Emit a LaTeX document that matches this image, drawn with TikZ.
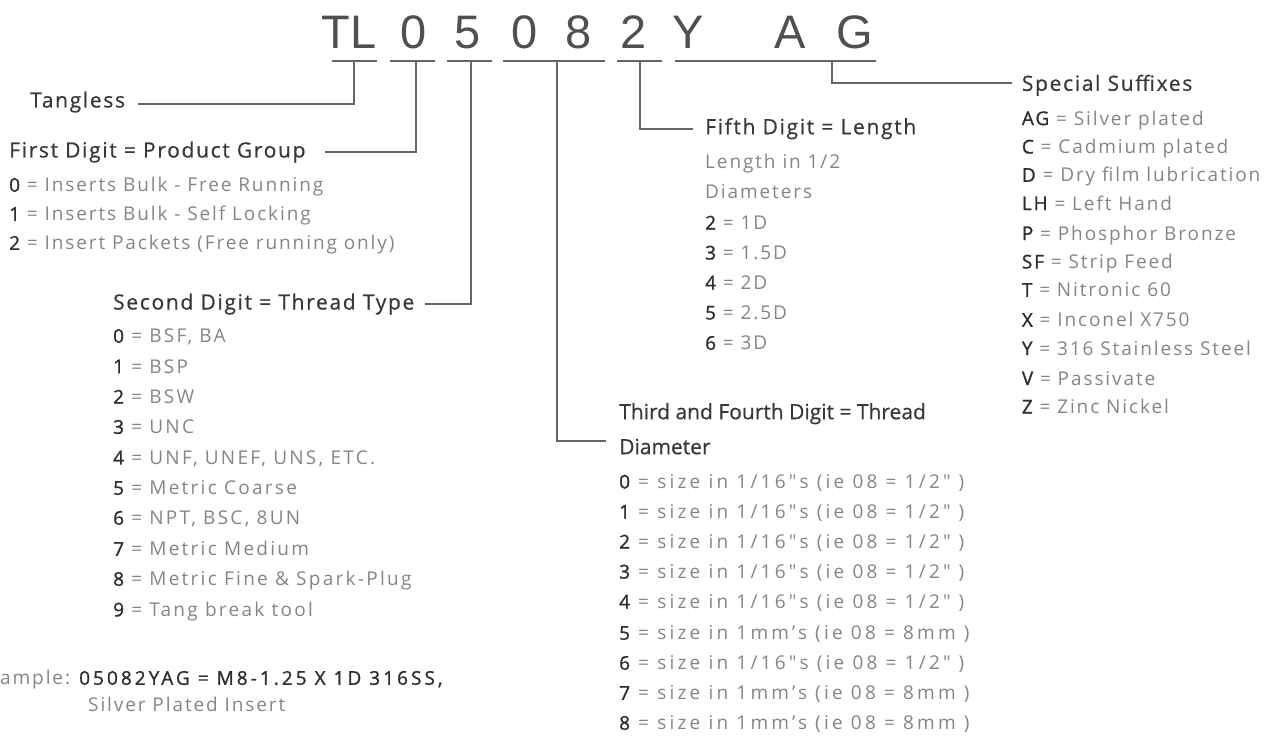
\documentclass[tikz,border=0pt]{standalone}
\usepackage{fontspec}
\setmainfont{Open Sans}
\newfontfamily\titlefont{Liberation Sans}
\definecolor{titlec}{HTML}{505050}
\definecolor{headc}{HTML}{383838}
\definecolor{itemc}{HTML}{858585}
\definecolor{keyc}{HTML}{2E2E2E}
\definecolor{linec}{HTML}{666666}
\newcommand\ky[1]{{\addfontfeature{FakeBold=1.2}\color{keyc}#1}}
\begin{document}
\begin{tikzpicture}[x=1pt,y=-1pt,
  ttl/.style={font=\titlefont\fontsize{47}{50}\selectfont, text=titlec, anchor=base, inner sep=0pt},
  head/.style={font=\fontsize{21}{25}\selectfont\addfontfeature{LetterSpace=8,FakeBold=0.6}, text=headc, anchor=base west, inner sep=0pt},
  headn/.style={font=\fontsize{21}{25}\selectfont\addfontfeature{FakeBold=0.6}, text=headc, anchor=base west, inner sep=0pt},
  item/.style={font=\fontsize{19}{23}\selectfont\addfontfeature{LetterSpace=10}, text=itemc, anchor=base west, inner sep=0pt},
  itemw/.style={item, font=\fontsize{19}{23}\selectfont\addfontfeature{LetterSpace=12}},
  itemd/.style={item, font=\fontsize{19}{23}\selectfont\addfontfeature{LetterSpace=17}},
  conn/.style={draw=linec, line width=2.4pt},
  under/.style={draw=linec, line width=2.4pt}]
\useasboundingbox (0,0) rectangle (1285,738);
% title
\node[ttl] (tTL) at (349,48.3) {TL};
\node[ttl] (t0) at (414,48.3) {0};
\node[ttl] (t5) at (468,48.3) {5};
\node[ttl] (t0b) at (525,48.3) {0};
\node[ttl] (t8) at (579,48.3) {8};
\node[ttl] (t2) at (634,48.3) {2};
\node[ttl] (tY) at (688,48.3) {Y};
\node[ttl] (tA) at (790,48.3) {A};
\node[ttl] (tG) at (855,48.3) {G};
% underlines
\draw[under] (331.7,61) -- (376.7,61);
\draw[under] (390,61) -- (435,61);
\draw[under] (446.7,61) -- (491.7,61);
\draw[under] (503,61) -- (605,61);
\draw[under] (617,61) -- (661.7,61);
\draw[under] (675,61) -- (876,61);
\coordinate (uTL) at (354,61);
\coordinate (u0) at (415.7,61);
\coordinate (u5) at (471,61);
\coordinate (u08) at (556.7,61);
\coordinate (u2) at (640,61);
\coordinate (uAG) at (831.7,61);
% Tangless
\node[head] (tang) at (30,107.5) {Tangless};
\coordinate (eTang) at (138,104);
\draw[conn] (uTL) |- (eTang);
% First digit
\node[head] (first) at (9,157.5) {First Digit = Product Group};
\coordinate (eFirst) at (325,152);
\draw[conn] (u0) |- (eFirst);
\node[item] (f0) at (9,191.8) {\ky{0} = Inserts Bulk - Free Running};
\node[item] (f1) at (9,220.8) {\ky{1} = Inserts Bulk - Self Locking};
\node[item] (f2) at (9,249.8) {\ky{2} = Insert Packets (Free running only)};
% Second digit
\node[head] (second) at (113,309.5) {Second Digit = Thread Type};
\coordinate (eSecond) at (425,304);
\draw[conn] (u5) |- (eSecond);
\node[itemw] (s0) at (113,342.8) {\ky{0} = BSF, BA};
\node[itemw] (s1) at (113,373.2) {\ky{1} = BSP};
\node[itemw] (s2) at (113,403.6) {\ky{2} = BSW};
\node[itemw] (s3) at (113,433.8) {\ky{3} = UNC};
\node[itemw] (s4) at (113,464.4) {\ky{4} = UNF, UNEF, UNS, ETC.};
\node[itemw] (s5) at (113,494.8) {\ky{5} = Metric Coarse};
\node[itemw] (s6) at (113,524.8) {\ky{6} = NPT, BSC, 8UN};
\node[itemw] (s7) at (113,555.8) {\ky{7} = Metric Medium};
\node[itemw] (s8) at (113,585.8) {\ky{8} = Metric Fine \& Spark-Plug};
\node[itemw] (s9) at (113,616.4) {\ky{9} = Tang break tool};
% example
\node[item] (ex1) at (0,684.8) {ample: \ky{\addfontfeature{LetterSpace=16}05082YAG = M8-1.25 X 1D 316SS,}};
\node[item] (ex2) at (88,711.8) {Silver Plated Insert};
% Fifth digit
\node[head] (fifth) at (705,134.2) {Fifth Digit = Length};
\coordinate (eFifth) at (692.7,129);
\draw[conn] (u2) |- (eFifth);
\node[item] (l0) at (705,168.5) {Length in 1/2};
\node[item] (l1) at (705,198.5) {Diameters};
\node[item] (l2) at (705,229.5) {\ky{2} = 1D};
\node[item] (l3) at (705,259.5) {\ky{3} = 1.5D};
\node[item] (l4) at (705,289.5) {\ky{4} = 2D};
\node[item] (l5) at (705,319.5) {\ky{5} = 2.5D};
\node[item] (l6) at (705,349.8) {\ky{6} = 3D};
% Third and fourth
\node[headn] (third) at (619,419.2) {Third and Fourth Digit = Thread};
\node[headn] (thirdb) at (619,454.2) {Diameter};
\coordinate (eThird) at (606,440.7);
\draw[conn] (u08) |- (eThird);
\node[itemd] (d0) at (619,488.5) {\ky{0} = size in 1/16″s (ie 08 = 1/2″ )};
\node[itemd] (d1) at (619,518.5) {\ky{1} = size in 1/16″s (ie 08 = 1/2″ )};
\node[itemd] (d2) at (619,548.5) {\ky{2} = size in 1/16″s (ie 08 = 1/2″ )};
\node[itemd] (d3) at (619,578.5) {\ky{3} = size in 1/16″s (ie 08 = 1/2″ )};
\node[itemd] (d4) at (619,608.5) {\ky{4} = size in 1/16″s (ie 08 = 1/2″ )};
\node[itemd] (d5) at (619,639.8) {\ky{5} = size in 1mm’s (ie 08 = 8mm )};
\node[itemd] (d6) at (619,669.8) {\ky{6} = size in 1/16″s (ie 08 = 1/2″ )};
\node[itemd] (d7) at (619,699.8) {\ky{7} = size in 1mm’s (ie 08 = 8mm )};
\node[itemd] (d8) at (619,729.8) {\ky{8} = size in 1mm’s (ie 08 = 8mm )};
% Special suffixes
\node[head] (suf) at (1021.7,90.8) {Special Suffixes};
\coordinate (eSuf) at (1011.7,83.3);
\draw[conn] (uAG) |- (eSuf);
\node[item] (x1) at (1021.7,125.1) {\ky{AG} = Silver plated};
\node[item] (x2) at (1021.7,153.5) {\ky{C} = Cadmium plated};
\node[item] (x3) at (1021.7,181.8) {\ky{D} = Dry film lubrication};
\node[item] (x4) at (1021.7,210.1) {\ky{LH} = Left Hand};
\node[item] (x5) at (1021.7,240.1) {\ky{P} = Phosphor Bronze};
\node[item] (x6) at (1021.7,268.5) {\ky{SF} = Strip Feed};
\node[item] (x7) at (1021.7,296.8) {\ky{T} = Nitronic 60};
\node[item] (x8) at (1021.7,326.8) {\ky{X} = Inconel X750};
\node[item] (x9) at (1021.7,355.1) {\ky{Y} = 316 Stainless Steel};
\node[item] (x10) at (1021.7,385.1) {\ky{V} = Passivate};
\node[item] (x11) at (1021.7,413.5) {\ky{Z} = Zinc Nickel};
\end{tikzpicture}
\end{document}
